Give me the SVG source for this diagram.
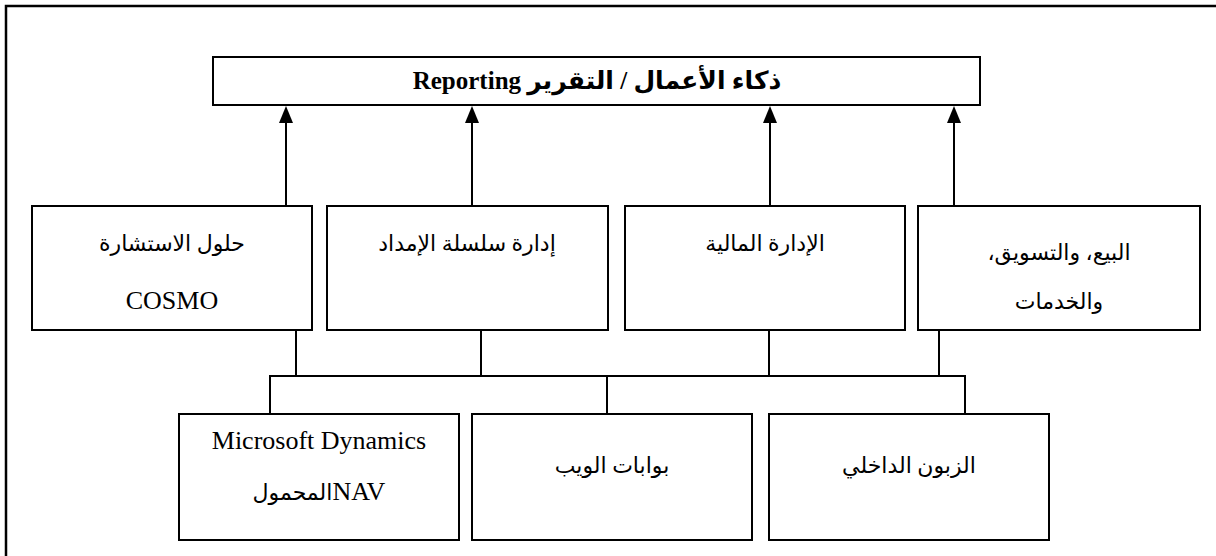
<svg xmlns="http://www.w3.org/2000/svg" width="1216" height="556" viewBox="0 0 1216 556">
  <style>
    .box { fill: #fff; stroke: #000; stroke-width: 2; }
    .frame { fill: none; stroke: #000; stroke-width: 2.5; }
    .link { fill: none; stroke: #000; stroke-width: 2; }
    .head { fill: #000; }
    .ar { font-family: "Liberation Serif", "DejaVu Sans", serif; font-size: 22px; fill: #000; text-anchor: middle; direction: rtl; }
    .lat { font-family: "Liberation Serif", serif; font-size: 26px; fill: #000; text-anchor: middle; }
    .title { font-family: "Liberation Serif", "DejaVu Sans", serif; font-size: 25px; font-weight: bold; fill: #000; text-anchor: middle; direction: rtl; }
  </style>

  <rect width="1216" height="556" fill="#fff"/>
  <!-- outer frame (left and top edges) -->
  <path class="frame" d="M6,556 V6 H1216"/>

  <!-- connectors -->
  <g id="connectors">
    <!-- arrows up to the reporting box -->
    <line class="link" x1="286" y1="206" x2="286" y2="120"/>
    <line class="link" x1="472" y1="206" x2="472" y2="120"/>
    <line class="link" x1="770" y1="206" x2="770" y2="120"/>
    <line class="link" x1="954" y1="206" x2="954" y2="120"/>
    <path class="head" d="M279,123 L286,106 L293,123 Z"/>
    <path class="head" d="M465,123 L472,106 L479,123 Z"/>
    <path class="head" d="M763,123 L770,106 L777,123 Z"/>
    <path class="head" d="M947,123 L954,106 L961,123 Z"/>
    <!-- drops from the module boxes to the shared bus -->
    <line class="link" x1="296" y1="330" x2="296" y2="376"/>
    <line class="link" x1="481" y1="330" x2="481" y2="376"/>
    <line class="link" x1="769" y1="330" x2="769" y2="376"/>
    <line class="link" x1="939" y1="330" x2="939" y2="376"/>
    <!-- bus -->
    <line class="link" x1="269" y1="376" x2="966" y2="376"/>
    <!-- drops from the bus to the access boxes -->
    <line class="link" x1="270" y1="376" x2="270" y2="414"/>
    <line class="link" x1="607" y1="376" x2="607" y2="414"/>
    <line class="link" x1="965" y1="376" x2="965" y2="414"/>
  </g>

  <g id="reporting">
    <rect class="box" x="213" y="57" width="767" height="48"/>
    <text class="title" x="597" y="89">ذكاء الأعمال / التقرير Reporting</text>
  </g>

  <g id="consulting">
    <rect class="box" x="32" y="206" width="280" height="124"/>
    <text class="ar" x="172" y="251">حلول الاستشارة</text>
    <text class="lat" x="172" y="309">COSMO</text>
  </g>

  <g id="supply-chain">
    <rect class="box" x="327" y="206" width="281" height="124"/>
    <text class="ar" x="467" y="251">إدارة سلسلة الإمداد</text>
  </g>

  <g id="finance">
    <rect class="box" x="625" y="206" width="280" height="124"/>
    <text class="ar" x="765" y="251">الإدارة المالية</text>
  </g>

  <g id="sales">
    <rect class="box" x="918" y="206" width="282" height="124"/>
    <text class="ar" x="1059" y="260">البيع، والتسويق،</text>
    <text class="ar" x="1059" y="309">والخدمات</text>
  </g>

  <g id="nav-mobile">
    <rect class="box" x="179" y="414" width="280" height="126"/>
    <text class="lat" x="319" y="449">Microsoft Dynamics</text>
    <text class="ar" x="319" y="500"><tspan font-size="26px">NAV</tspan>المحمول</text>
  </g>

  <g id="web-portals">
    <rect class="box" x="472" y="414" width="280" height="126"/>
    <text class="ar" x="612" y="473">بوابات الويب</text>
  </g>

  <g id="internal-customer">
    <rect class="box" x="769" y="414" width="280" height="126"/>
    <text class="ar" x="909" y="473">الزبون الداخلي</text>
  </g>
</svg>
